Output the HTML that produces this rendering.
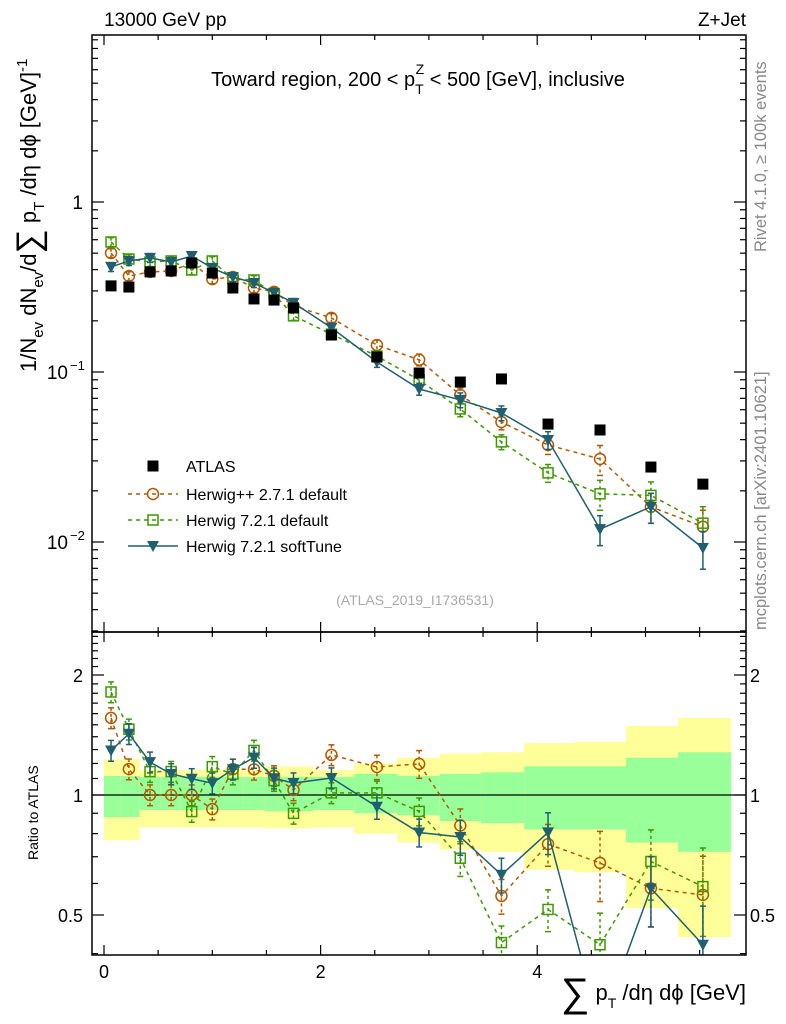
<!DOCTYPE html>
<html><head><meta charset="utf-8">
<style>
html,body{margin:0;padding:0;background:#fff;}
svg{display:block;font-family:"Liberation Sans",Arial,sans-serif;}
</style></head>
<body>
<svg id="chart" width="786" height="1024" viewBox="0 0 786 1024" xmlns="http://www.w3.org/2000/svg">
<text x="104" y="26" font-size="19">13000 GeV pp</text>
<text x="746" y="26" font-size="19" text-anchor="end">Z+Jet</text>
<text x="418" y="86" font-size="20" text-anchor="middle">Toward region, 200 &lt; p<tspan font-size="14" dy="8">T</tspan><tspan font-size="14" dx="-8" dy="-20">Z</tspan><tspan dy="12"> &lt; 500 [GeV], inclusive</tspan></text>
<text transform="translate(766,252) rotate(-90)" font-size="16.5" fill="#888">Rivet 4.1.0, ≥ 100k events</text>
<text transform="translate(766,630) rotate(-90)" font-size="16.5" fill="#888">mcplots.cern.ch [arXiv:2401.10621]</text>
<text transform="translate(36,372) rotate(-90)" font-size="22">1/N<tspan font-size="15" dy="7">ev</tspan><tspan dy="-7"> dN</tspan><tspan font-size="15" dy="7">ev</tspan><tspan dy="-7">/d</tspan><tspan font-size="34" dy="4">∑</tspan><tspan dy="-4"> p</tspan><tspan font-size="15" dy="8">T</tspan><tspan dy="-8"> /dη dϕ  [GeV]</tspan><tspan font-size="15" dy="-9">-1</tspan></text>
<text transform="translate(38,860) rotate(-90)" font-size="14">Ratio to ATLAS</text>
<text x="746" y="1000" font-size="22" text-anchor="end"><tspan font-size="40" dy="6">∑</tspan><tspan dy="-6"> p</tspan><tspan font-size="14" dy="8">T</tspan><tspan dy="-8"> /dη dϕ [GeV]</tspan></text>
<text x="415" y="605" font-size="14" fill="#aaa" text-anchor="middle">(ATLAS_2019_I1736531)</text>
<g id="bands"></g><g id="marks"></g><g id="axes"></g>
<g id="legend"></g>
</svg>
<script>
const xCenters=[0.065,0.23,0.425,0.62,0.81,1.0,1.19,1.385,1.57,1.75,2.1,2.52,2.91,3.29,3.67,4.1,4.58,5.05,5.53];
const xEdges=[0,0.15,0.33,0.52,0.71,0.9,1.1,1.29,1.48,1.66,1.93,2.31,2.71,3.1,3.48,3.88,4.34,4.82,5.3,5.79];
const atlas=[0.321,0.316,0.388,0.393,0.438,0.382,0.312,0.269,0.265,0.238,0.165,0.1225,0.0986,0.0873,0.091,0.0494,0.0456,0.0276,0.0219];
const herwigpp=[0.501,0.367,0.388,0.393,0.438,0.352,0.362,0.312,0.296,0.245,0.208,0.144,0.118,0.0732,0.0508,0.0372,0.0308,0.0161,0.0123];
const herwig7=[0.582,0.462,0.444,0.45,0.398,0.45,0.352,0.348,0.288,0.214,0.167,0.124,0.0897,0.0606,0.0388,0.0255,0.0192,0.0188,0.0129];
const softTune=[0.415,0.45,0.469,0.444,0.481,0.409,0.362,0.334,0.292,0.255,0.182,0.1145,0.0794,0.0685,0.0574,0.0398,0.0119,0.0161,0.00922];
const relErr=[0.06,0.06,0.06,0.06,0.06,0.06,0.06,0.06,0.06,0.06,0.06,0.07,0.08,0.1,0.1,0.12,0.2,0.2,0.25];
const bandYellowUp=[1.23,1.23,1.155,1.155,1.155,1.155,1.155,1.155,1.18,1.18,1.155,1.20,1.24,1.27,1.28,1.35,1.36,1.49,1.56];
const bandYellowLo=[0.77,0.77,0.83,0.83,0.83,0.83,0.83,0.83,0.825,0.825,0.83,0.80,0.76,0.73,0.72,0.65,0.64,0.52,0.44];
const bandGreenUp=[1.116,1.116,1.11,1.11,1.11,1.11,1.11,1.11,1.11,1.11,1.11,1.13,1.117,1.13,1.14,1.18,1.18,1.24,1.28];
const bandGreenLo=[0.88,0.88,0.917,0.917,0.917,0.917,0.917,0.917,0.91,0.91,0.917,0.90,0.89,0.86,0.85,0.82,0.82,0.76,0.72];
const xTicks=[0,2,4];

const NS="http://www.w3.org/2000/svg";
const L=92,R=746,T=35,MB=632,RB=955;
const X=v=>104+v*108.3;
const Y=v=>202-Math.log10(v)*170;
const RY=v=>795-Math.log2(v)*120;
function mk(tag,attrs,parent){const e=document.createElementNS(NS,tag);for(const k in attrs)e.setAttribute(k,attrs[k]);parent.appendChild(e);return e;}
const bands=document.getElementById('bands'),marks=document.getElementById('marks'),axes=document.getElementById('axes'),legend=document.getElementById('legend');

const clipR=mk('clipPath',{id:'cr'},mk('defs',{},document.getElementById('chart')));
mk('rect',{x:L,y:MB,width:R-L,height:RB-MB},clipR);
const clipM=mk('clipPath',{id:'cm'},document.querySelector('defs'));
mk('rect',{x:L,y:T,width:R-L,height:MB-T},clipM);
bands.setAttribute('clip-path','url(#cr)');
for(let i=0;i<xCenters.length;i++){
  const x0=X(xEdges[i]),x1=X(xEdges[i+1]);
  const y=mk('rect',{x:x0,y:RY(bandYellowUp[i]),width:x1-x0,height:RY(bandYellowLo[i])-RY(bandYellowUp[i]),fill:'#ffff99'},bands);
  
  
  const g=mk('rect',{x:x0,y:RY(bandGreenUp[i]),width:x1-x0,height:RY(bandGreenLo[i])-RY(bandGreenUp[i]),fill:'#99ff99'},bands);
  
  
}
const one=mk('line',{x1:L,x2:R,y1:RY(1),y2:RY(1),stroke:'#000','stroke-width':1.2},bands);



function marker(type,x,y,col,g){
  if(type==='sq') mk('rect',{x:x-5,y:y-5,width:10,height:10,fill:'none',stroke:col,'stroke-width':1.5},g);
  else if(type==='ci') mk('circle',{cx:x,cy:y,r:5.5,fill:'none',stroke:col,'stroke-width':1.5},g);
  else if(type==='tri') mk('path',{d:`M${x-6},${y-5}L${x+6},${y-5}L${x},${y+6}Z`,fill:col},g);
  else if(type==='bsq') mk('rect',{x:x-5.5,y:y-5.5,width:11,height:11,fill:'#000'},g);
}
const series=[
 {name:'herwigpp-2-7-1',vals:herwigpp,col:'#b35900',type:'ci',dash:'4,4'},
 {name:'herwig-7-2-1-default',vals:herwig7,col:'#3d9900',type:'sq',dash:'4,4'},
 {name:'herwig-7-2-1-softtune',vals:softTune,col:'#1f5f70',type:'tri',dash:''}
];
const gm=mk('g',{'clip-path':'url(#cm)'},marks);
const gr=mk('g',{'clip-path':'url(#cr)'},marks);
for(const s of series){
  for(const [g,fy,vals] of [[gm,Y,s.vals],[gr,RY,s.vals.map((v,i)=>v/atlas[i])]]){
    const sg=mk('g',{},g);
    
    
    const pts=vals.map((v,i)=>X(xCenters[i])+','+fy(v)).join(' ');
    mk('polyline',{points:pts,fill:'none',stroke:s.col,'stroke-width':1.5,'stroke-dasharray':s.dash},sg);
    vals.forEach((v,i)=>{
      const x=X(xCenters[i]),y0=fy(v*(1+relErr[i])),y1=fy(v*(1-relErr[i]));
      mk('line',{x1:x,x2:x,y1:y0,y2:y1,stroke:s.col,'stroke-width':1.5,'stroke-dasharray':s.dash?'3,3':''},sg);
      mk('line',{x1:x-3,x2:x+3,y1:y0,y2:y0,stroke:s.col,'stroke-width':1.5},sg);
      mk('line',{x1:x-3,x2:x+3,y1:y1,y2:y1,stroke:s.col,'stroke-width':1.5},sg);
      marker(s.type,x,fy(v),s.col,sg);
    });
  }
}
const ag=mk('g',{},gm);


atlas.forEach((v,i)=>marker('bsq',X(xCenters[i]),Y(v),'#000',ag));

mk('rect',{x:L,y:T,width:R-L,height:MB-T,fill:'none',stroke:'#000','stroke-width':1.5},axes);
mk('rect',{x:L,y:MB,width:R-L,height:RB-MB,fill:'none',stroke:'#000','stroke-width':1.5},axes);
for(let v=0;v<=6;v+=0.5){const x=X(v);if(x>R)break;const len=(v%2===0)?10:5;
  for(const [yb,d] of [[MB,-1],[T,1],[RB,-1],[MB,1]]) mk('line',{x1:x,x2:x,y1:yb,y2:yb+d*len,stroke:'#000','stroke-width':1.2},axes);}
xTicks.forEach(v=>{const t=mk('text',{x:X(v),y:978,'font-size':18,'text-anchor':'middle'},axes);t.textContent=v;
  
  });
for(let e=-3;e<=0;e++)for(let m=1;m<10;m++){const v=m*Math.pow(10,e);const y=Y(v);if(y<T||y>MB)continue;const len=m===1?12:6;
  mk('line',{x1:L,x2:L+len,y1:y,y2:y,stroke:'#000','stroke-width':1.2},axes);
  mk('line',{x1:R,x2:R-len,y1:y,y2:y,stroke:'#000','stroke-width':1.2},axes);}
const yl=[[1,'1',''],[0.1,'10','−1'],[0.01,'10','−2']];
yl.forEach(([v,b,s])=>{const t=mk('text',{x:s?68:83,y:Y(v)+7,'font-size':19,'text-anchor':'end'},axes);t.textContent=b;
  
  
  if(s){const u=mk('text',{x:70,y:Y(v)-2,'font-size':13},axes);u.textContent=s;}});
for(let v=0.4;v<=2.6;v+=0.1){const y=RY(v);if(y<MB||y>RB)continue;const maj=[0.5,1,2].some(q=>Math.abs(q-v)<1e-6);const len=maj?12:6;
  mk('line',{x1:L,x2:L+len,y1:y,y2:y,stroke:'#000','stroke-width':1.2},axes);
  mk('line',{x1:R,x2:R-len,y1:y,y2:y,stroke:'#000','stroke-width':1.2},axes);}
[[2,'2'],[1,'1'],[0.5,'0.5']].forEach(([v,s])=>{
  const t=mk('text',{x:83,y:RY(v)+7,'font-size':18,'text-anchor':'end'},axes);t.textContent=s;
  
  
  const t2=mk('text',{x:750,y:RY(v)+7,'font-size':18},axes);t2.textContent=s;
  
  });

const lent=[['ATLAS','bsq','#000',null,466,'legend-atlas'],['Herwig++ 2.7.1 default','ci','#b35900','4,4',494,'legend-herwigpp'],['Herwig 7.2.1 default','sq','#3d9900','4,4',520,'legend-herwig7-default'],['Herwig 7.2.1 softTune','tri','#1f5f70','',546,'legend-herwig7-softtune']];
lent.forEach(([lab,type,col,dash,y,nm])=>{
  const g=mk('g',{},legend);
  
  
  if(dash!==null) mk('line',{x1:128,x2:178,y1:y,y2:y,stroke:col,'stroke-width':1.5,'stroke-dasharray':dash},g);
  marker(type,153,y,col,g);
  const t=mk('text',{x:186,y:y+6,'font-size':16},g);t.textContent=lab;
});
</script>
</body></html>
